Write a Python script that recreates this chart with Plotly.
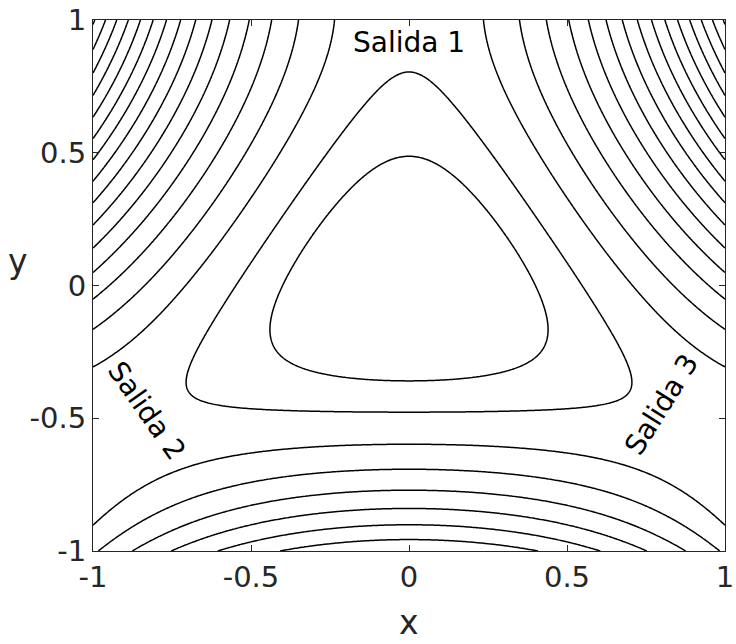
import numpy as np
import plotly.graph_objects as go

# Hénon–Heiles potential V(x, y) = (x^2 + y^2)/2 + x^2 y - y^3/3
x_range = [-1.0, 1.0]
y_range = [-1.0, 1.0]
inner_level = 0.08
outer_levels = [0.15, 0.25, 0.35, 0.45, 0.55, 0.65, 0.75, 0.85, 0.95,
                1.05, 1.15, 1.25, 1.35, 1.45, 1.55, 1.65]
tick_vals = [-1, -0.5, 0, 0.5, 1]
tick_text = ["-1", "-0.5", "0", "0.5", "1"]
exit_labels = ["Salida 1", "Salida 2", "Salida 3"]
exit_x = [0.0, -0.83, 0.80]
exit_y = [0.915, -0.47, -0.45]
exit_angle = [0, 55, -58]

xs = np.linspace(x_range[0], x_range[1], 501)
ys = np.linspace(y_range[0], y_range[1], 501)
X, Y = np.meshgrid(xs, ys)
V = 0.5 * (X**2 + Y**2) + X**2 * Y - Y**3 / 3.0

black = [[0, "black"], [1, "black"]]
font_family = "DejaVu Sans"

fig = go.Figure()
step = round(outer_levels[1] - outer_levels[0], 6)
fig.add_trace(go.Contour(
    x=xs, y=ys, z=V,
    contours=dict(start=outer_levels[0], end=outer_levels[-1], size=step,
                  coloring="lines", showlabels=False),
    colorscale=black, showscale=False, line=dict(width=1.5, smoothing=0),
    hoverinfo="skip",
))
fig.add_trace(go.Contour(
    x=xs, y=ys, z=V,
    contours=dict(start=inner_level, end=inner_level, size=0.01,
                  coloring="lines", showlabels=False),
    colorscale=black, showscale=False, line=dict(width=1.5, smoothing=0),
    hoverinfo="skip",
))

for txt, ax_, ay_, ang in zip(exit_labels, exit_x, exit_y, exit_angle):
    fig.add_annotation(x=ax_, y=ay_, text=txt, showarrow=False,
                       textangle=ang, xanchor="center", yanchor="middle",
                       font=dict(family=font_family, size=28, color="black"))

# axis names, both drawn upright
fig.add_annotation(x=0, y=-0.135, xref="x", yref="paper", text="x",
                   showarrow=False, xanchor="center", yanchor="middle",
                   font=dict(family=font_family, size=33, color="#262626"))
fig.add_annotation(x=-0.119, y=0.09, xref="paper", yref="y", text="y",
                   showarrow=False, xanchor="center", yanchor="middle",
                   font=dict(family=font_family, size=33, color="#262626"))

axis_common = dict(
    tickvals=tick_vals, ticktext=tick_text, ticks="inside", ticklen=6,
    tickwidth=1, tickcolor="#262626", showline=True, linecolor="#262626",
    linewidth=1.2, mirror="ticks", showgrid=False, zeroline=False,
    automargin=False,
    tickfont=dict(family=font_family, size=29, color="#262626"),
)
fig.update_xaxes(range=x_range, **axis_common)
fig.update_yaxes(range=y_range, **axis_common)

fig.update_layout(
    width=736, height=644,
    margin=dict(l=93, r=11, t=20, b=93),
    plot_bgcolor="white", paper_bgcolor="white",
    showlegend=False,
)

fig.write_html("out.html")
